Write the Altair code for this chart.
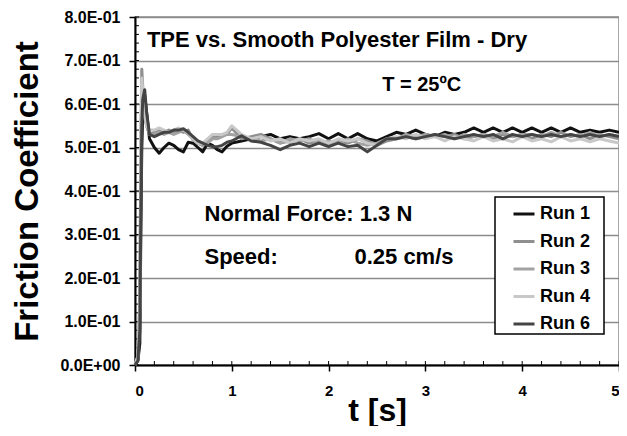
import altair as alt
import pandas as pd

# ---- time samples (s) ----
t_early = [0.0, 0.03, 0.05, 0.06, 0.07, 0.08, 0.10, 0.12, 0.15]
t_mid = [0.2, 0.25, 0.3, 0.35, 0.4, 0.45, 0.5, 0.55, 0.6, 0.65,
         0.7, 0.75, 0.8, 0.85, 0.9, 0.95, 1.0]
t_late = [1.1, 1.2, 1.3, 1.4, 1.5, 1.6, 1.7, 1.8, 1.9, 2.0,
          2.1, 2.2, 2.3, 2.4, 2.5, 2.6, 2.7, 2.8, 2.9, 3.0,
          3.1, 3.2, 3.3, 3.4, 3.5, 3.6, 3.7, 3.8, 3.9, 4.0,
          4.1, 4.2, 4.3, 4.4, 4.5, 4.6, 4.7, 4.8, 4.9, 5.0]
times = t_early + t_mid + t_late

# ---- friction coefficient per run ----
run1 = ([0.00, 0.01, 0.05, 0.30, 0.50, 0.58, 0.62, 0.58, 0.52] +
        [0.50, 0.487, 0.50, 0.51, 0.505, 0.495, 0.49, 0.512, 0.51, 0.50,
         0.49, 0.51, 0.505, 0.495, 0.49, 0.503, 0.51] +
        [0.515, 0.52, 0.525, 0.53, 0.52, 0.525, 0.52, 0.525, 0.532, 0.52,
         0.532, 0.52, 0.532, 0.52, 0.515, 0.525, 0.535, 0.53, 0.54, 0.53,
         0.525, 0.535, 0.53, 0.535, 0.545, 0.535, 0.545, 0.535, 0.545, 0.535,
         0.545, 0.535, 0.545, 0.535, 0.545, 0.535, 0.54, 0.535, 0.54, 0.535])
run2 = ([0.00, 0.02, 0.15, 0.50, 0.68, 0.64, 0.58, 0.55, 0.53] +
        [0.535, 0.54, 0.535, 0.54, 0.535, 0.54, 0.535, 0.54, 0.517, 0.51,
         0.505, 0.515, 0.525, 0.525, 0.53, 0.53, 0.545] +
        [0.52, 0.525, 0.53, 0.52, 0.51, 0.515, 0.52, 0.51, 0.515, 0.505,
         0.515, 0.51, 0.52, 0.515, 0.505, 0.515, 0.52, 0.525, 0.52, 0.525,
         0.53, 0.525, 0.53, 0.52, 0.525, 0.53, 0.52, 0.53, 0.525, 0.53,
         0.52, 0.53, 0.525, 0.535, 0.525, 0.53, 0.52, 0.53, 0.525, 0.52])
run3 = ([0.00, 0.02, 0.12, 0.45, 0.64, 0.62, 0.57, 0.55, 0.53] +
        [0.53, 0.535, 0.53, 0.535, 0.53, 0.535, 0.54, 0.53, 0.52, 0.51,
         0.505, 0.51, 0.52, 0.52, 0.525, 0.53, 0.53] +
        [0.525, 0.52, 0.515, 0.52, 0.51, 0.52, 0.515, 0.52, 0.51, 0.515,
         0.51, 0.52, 0.51, 0.505, 0.51, 0.52, 0.52, 0.53, 0.525, 0.53,
         0.525, 0.53, 0.52, 0.53, 0.525, 0.53, 0.525, 0.535, 0.525, 0.53,
         0.53, 0.525, 0.535, 0.525, 0.53, 0.525, 0.535, 0.525, 0.53, 0.525])
run4 = ([0.00, 0.02, 0.14, 0.48, 0.66, 0.63, 0.58, 0.55, 0.54] +
        [0.54, 0.545, 0.54, 0.535, 0.54, 0.545, 0.54, 0.535, 0.52, 0.51,
         0.51, 0.52, 0.53, 0.53, 0.53, 0.535, 0.55] +
        [0.53, 0.52, 0.525, 0.515, 0.52, 0.51, 0.52, 0.515, 0.52, 0.51,
         0.52, 0.515, 0.52, 0.51, 0.505, 0.52, 0.525, 0.52, 0.53, 0.52,
         0.525, 0.515, 0.525, 0.52, 0.515, 0.525, 0.515, 0.52, 0.513, 0.525,
         0.515, 0.52, 0.513, 0.525, 0.515, 0.52, 0.513, 0.52, 0.515, 0.51])
run6 = ([0.00, 0.01, 0.08, 0.35, 0.55, 0.61, 0.633, 0.58, 0.53] +
        [0.525, 0.53, 0.535, 0.535, 0.54, 0.54, 0.543, 0.535, 0.525, 0.515,
         0.51, 0.505, 0.502, 0.502, 0.505, 0.512, 0.515] +
        [0.527, 0.515, 0.512, 0.505, 0.495, 0.505, 0.51, 0.502, 0.51, 0.502,
         0.51, 0.502, 0.505, 0.49, 0.505, 0.52, 0.52, 0.525, 0.52, 0.525,
         0.53, 0.525, 0.52, 0.525, 0.53, 0.525, 0.53, 0.52, 0.53, 0.525,
         0.53, 0.525, 0.53, 0.525, 0.53, 0.525, 0.53, 0.525, 0.53, 0.525])

run_names = ["Run 1", "Run 2", "Run 3", "Run 4", "Run 6"]
run_colors = ["#111111", "#8f8f8f", "#a2a2a2", "#c8c8c8", "#444444"]
series = [run1, run2, run3, run4, run6]

y_ticks = [0.0, 0.1, 0.2, 0.3, 0.4, 0.5, 0.6, 0.7, 0.8]
x_ticks = [0, 1, 2, 3, 4, 5]
y_minor = [round(i * 0.02, 2) for i in range(41)]
x_minor = [round(i * 0.2, 1) for i in range(26)]

FONT = "Liberation Sans"
W, H = 484, 348

rows = []
for name, vals in zip(run_names, series):
    for t, v in zip(times, vals):
        rows.append({"t": t, "v": v, "run": name})
df = pd.DataFrame(rows)

xscale = alt.Scale(domain=[0, 5], nice=False, zero=False)
yscale = alt.Scale(domain=[0, 0.8], nice=False)

x_axis = alt.Axis(values=x_ticks, format="d", title="t [s]", grid=False,
                  labelFontSize=15, labelFontWeight="bold", labelFont=FONT,
                  labelColor="black", labelPadding=12,
                  tickSize=6, tickWidth=1.5, tickColor="black",
                  domainColor="black", domainWidth=2,
                  titleFontSize=32, titleFont=FONT, titleFontWeight="bold",
                  titleColor="black", titleX=W / 2, titleY=55,
                  titleBaseline="alphabetic", titleAlign="center")
y_axis = alt.Axis(values=y_ticks, title="Friction Coefficient",
                  labelExpr="datum.value == 0 ? '0.0E+00' : format(datum.value * 10, '.1f') + 'E-01'",
                  labelFontSize=16, labelFontWeight="bold", labelFont=FONT,
                  labelColor="black", labelPadding=9,
                  grid=True, gridColor="#8c8c8c", gridWidth=1.5,
                  tickSize=6, tickWidth=1.5, tickColor="black",
                  domainColor="black", domainWidth=2,
                  titleFontSize=33, titleFont=FONT, titleFontWeight="bold",
                  titleColor="black", titleAngle=-90, titleX=-108, titleY=H / 2,
                  titleBaseline="middle", titleAlign="center")

# minor-tick layers carry the axes
ymin = alt.Chart(pd.DataFrame({"v": y_minor})).mark_rule(color="black", strokeWidth=1).encode(
    y=alt.Y("v:Q", scale=yscale, axis=y_axis), x=alt.value(0), x2=alt.value(4))
xmin = alt.Chart(pd.DataFrame({"t": x_minor})).mark_rule(color="black", strokeWidth=1).encode(
    x=alt.X("t:Q", scale=xscale, axis=x_axis), y=alt.value(H), y2=alt.value(H - 4))

lines = alt.Chart(df).mark_line(strokeWidth=3, strokeJoin="round").encode(
    x=alt.X("t:Q"),
    y=alt.Y("v:Q"),
    color=alt.Color("run:N",
                    scale=alt.Scale(domain=run_names, range=run_colors),
                    legend=alt.Legend(title=None, orient="none", legendX=377, legendY=185,
                                      symbolType="stroke", symbolSize=441,
                                      symbolStrokeWidth=3,
                                      labelFont=FONT, labelFontSize=18,
                                      labelFontWeight="bold", labelColor="black",
                                      labelOffset=4, padding=0, rowPadding=6.5)),
    detail="run:N",
)

# legend frame (white box with black border behind the legend entries)
frame = alt.Chart(pd.DataFrame({"a": [0]})).mark_rect(
    fill="white", stroke="black", strokeWidth=1.5).encode(
    x=alt.value(360), x2=alt.value(469), y=alt.value(180), y2=alt.value(317))

ann = pd.DataFrame({
    "t": [0.123, 2.554, 0.718, 0.718, 2.267],
    "v": [0.731, 0.629, 0.330, 0.233, 0.233],
    "label": ["TPE vs. Smooth Polyester Film - Dry", "T = 25ºC",
              "Normal Force: 1.3 N", "Speed:", "0.25 cm/s"],
    "size": [22, 20, 22, 22, 22],
})
texts = alt.Chart(ann).mark_text(align="left", baseline="alphabetic", font=FONT,
                                 fontWeight="bold", color="black").encode(
    x=alt.X("t:Q"),
    y=alt.Y("v:Q"),
    text="label:N",
    size=alt.Size("size:Q", scale=None, legend=None),
)

chart = alt.layer(ymin, xmin, lines, frame, texts).properties(
    width=W, height=H,
    autosize=alt.AutoSizeParams(type="none"),
    padding={"left": 127, "top": 9, "right": 0, "bottom": 61},
    background="white",
).configure_view(stroke="#8c8c8c", strokeWidth=1.5)

chart.save("out.html", embed_options={"renderer": "svg", "actions": False})
